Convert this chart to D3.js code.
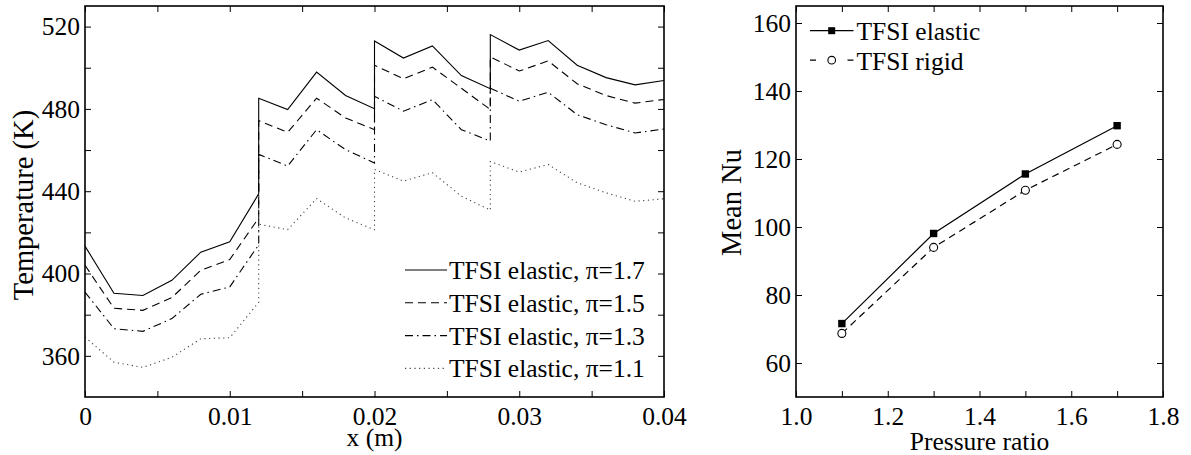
<!DOCTYPE html>
<html>
<head>
<meta charset="utf-8">
<script src="https://cdn.jsdelivr.net/npm/d3@7"></script>
<style>
  body { margin: 0; background: #fff; }
  svg text { font-family: "Liberation Serif", "Times New Roman", serif; fill: #000; }
</style>
</head>
<body>
<div id="chart"></div>
<script>
// Dati: temperatura lungo x per quattro rapporti di pressione
const xPos = [0, 0.002, 0.004, 0.006, 0.008, 0.010, 0.012, 0.012, 0.014, 0.016, 0.018, 0.020, 0.020,
  0.022, 0.024, 0.026, 0.028, 0.028, 0.030, 0.032, 0.034, 0.036, 0.038, 0.040];
const temp17 = [413.3, 390.4, 389.3, 396.7, 410.4, 415.4, 438.7, 485.2, 479.7, 497.9, 486.5, 480.1, 513.0,
  504.7, 510.6, 496.2, 489.8, 516.1, 508.6, 513.2, 501.2, 495.2, 491.7, 493.8];
const temp15 = [404, 383.1, 382.1, 388.3, 401.6, 406.8, 427, 474.3, 468.6, 485.2, 475.6, 469.9, 501.2,
  494.6, 500.3, 490, 479.7, 505.3, 498.4, 503.3, 492.2, 486.5, 482.8, 484.6];
const temp13 = [391, 373.2, 371.9, 378.1, 389.9, 393.5, 414, 457.9, 452.2, 469.9, 460.2, 453.7, 486.1,
  478.9, 484.5, 469.9, 464.4, 490.1, 483.7, 488.1, 477.2, 472.3, 468.3, 470.2];
const temp11 = [369.1, 356.9, 354.4, 359.3, 368.3, 368.8, 386, 424, 421.3, 436.4, 427, 421.3, 450.6,
  444.9, 449, 437.6, 430.8, 454.4, 449.3, 453, 444.1, 439.2, 435.1, 436.3];
const tempLabels = ['TFSI elastic, \u03c0=1.7', 'TFSI elastic, \u03c0=1.5', 'TFSI elastic, \u03c0=1.3', 'TFSI elastic, \u03c0=1.1'];

// Dati: Nusselt medio
const ratios = [1.1, 1.3, 1.5, 1.7];
const nuElastic = [71.6, 98.1, 115.6, 129.8];
const nuRigid = [68.7, 94.0, 110.8, 124.3];
const nuLabels = ['TFSI elastic', 'TFSI rigid'];

const [width, height] = [1191, 455];
const fontSize = 25.5;
const titleSize = 25.5;
const rotSize = 28.5;

const svg = d3.select('#chart').append('svg')
  .attr('width', width)
  .attr('height', height);

// Box con tick verso l'interno su tutti e quattro i lati
const drawFrame = (g, x, y, xTicks, yTicks, xFmt, yFmt) => {
  const [x0, x1] = x.range();
  const [y0, y1] = y.range();
  const tick = 6;

  const bottom = g.append('g')
    .attr('transform', `translate(0,${y0})`)
    .call(d3.axisBottom(x).tickValues(xTicks).tickFormat(xFmt)
      .tickSizeInner(-tick).tickSizeOuter(0).tickPadding(10));
  const top = g.append('g')
    .attr('transform', `translate(0,${y1})`)
    .call(d3.axisTop(x).tickValues(xTicks).tickFormat('')
      .tickSizeInner(-tick).tickSizeOuter(0));
  const left = g.append('g')
    .attr('transform', `translate(${x0},0)`)
    .call(d3.axisLeft(y).tickValues(yTicks).tickFormat(yFmt)
      .tickSizeInner(-tick).tickSizeOuter(0).tickPadding(5));
  const right = g.append('g')
    .attr('transform', `translate(${x1},0)`)
    .call(d3.axisRight(y).tickValues(yTicks).tickFormat('')
      .tickSizeInner(-tick).tickSizeOuter(0));

  [bottom, top, left, right].forEach((a) => {
    a.select('.domain').remove();
    a.selectAll('line').attr('stroke', '#000').attr('stroke-width', 1);
    a.selectAll('text').attr('font-size', fontSize).attr('font-family', null);
  });

  g.append('rect')
    .attr('x', x0).attr('y', y1)
    .attr('width', x1 - x0).attr('height', y0 - y1)
    .attr('fill', 'none').attr('stroke', '#000').attr('stroke-width', 1.6);
};

// ---- Grafico sinistro ----
const xL = d3.scaleLinear().domain([0, 0.04]).range([85, 664]);
const yL = d3.scaleLinear().domain([340, 530]).range([397, 6]);
const gL = svg.append('g');

const styles = [
  { dash: null, color: '#000' },
  { dash: '8,5', color: '#000' },
  { dash: '8,4,1.5,4', color: '#000' },
  { dash: '1.2,3.5', color: '#444' }
];
const series = [temp17, temp15, temp13, temp11];

const lineL = d3.line()
  .x((d, i) => xL(xPos[i]))
  .y((d) => yL(d));

series.forEach((s, i) => {
  gL.append('path')
    .datum(s)
    .attr('d', lineL)
    .attr('fill', 'none')
    .attr('stroke', styles[i].color)
    .attr('stroke-width', 1.1)
    .attr('stroke-dasharray', styles[i].dash);
});

drawFrame(gL, xL, yL,
  d3.range(0, 0.0401, 0.005),
  d3.range(360, 521, 20),
  (d) => (Math.round(d * 1000) % 10 === 0 ? (d === 0 ? '0' : d3.format('.2f')(d)) : ''),
  (d) => (d % 40 === 0 ? d : ''));

gL.append('text')
  .attr('transform', `translate(32.5,205) rotate(-90)`)
  .attr('text-anchor', 'middle')
  .attr('font-size', rotSize)
  .text('Temperature (K)');

gL.append('text')
  .attr('x', (85 + 664) / 2)
  .attr('y', 446)
  .attr('text-anchor', 'middle')
  .attr('font-size', titleSize)
  .text('x (m)');

// Legenda sinistra
const legL = gL.append('g');
tempLabels.forEach((t, i) => {
  const yy = 270 + i * 32.8;
  legL.append('line')
    .attr('x1', 405).attr('x2', 447)
    .attr('y1', yy).attr('y2', yy)
    .attr('stroke', styles[i].color)
    .attr('stroke-width', 1.1)
    .attr('stroke-dasharray', styles[i].dash);
  legL.append('text')
    .attr('x', 449)
    .attr('y', yy + 9)
    .attr('font-size', fontSize)
    .text(t);
});

// ---- Grafico destro ----
const xR = d3.scaleLinear().domain([1.0, 1.8]).range([796, 1163]);
const yR = d3.scaleLinear().domain([50, 165]).range([397, 6]);
const gR = svg.append('g');

const lineR = d3.line()
  .x((d, i) => xR(ratios[i]))
  .y((d) => yR(d));

gR.append('path')
  .datum(nuElastic)
  .attr('d', lineR)
  .attr('fill', 'none')
  .attr('stroke', '#000')
  .attr('stroke-width', 1.2);

gR.append('path')
  .datum(nuRigid)
  .attr('d', lineR)
  .attr('fill', 'none')
  .attr('stroke', '#000')
  .attr('stroke-width', 1.2)
  .attr('stroke-dasharray', '7,5');

gR.selectAll('rect.sq')
  .data(nuElastic)
  .enter()
  .append('rect')
  .attr('class', 'sq')
  .attr('x', (d, i) => xR(ratios[i]) - 3.7)
  .attr('y', (d) => yR(d) - 3.7)
  .attr('width', 7.4)
  .attr('height', 7.4)
  .attr('fill', '#000');

gR.selectAll('circle.ci')
  .data(nuRigid)
  .enter()
  .append('circle')
  .attr('class', 'ci')
  .attr('cx', (d, i) => xR(ratios[i]))
  .attr('cy', (d) => yR(d))
  .attr('r', 4)
  .attr('fill', '#fff')
  .attr('stroke', '#000')
  .attr('stroke-width', 1.1);

drawFrame(gR, xR, yR,
  d3.range(1.0, 1.801, 0.1),
  d3.range(60, 161, 20),
  (d) => (Math.round(d * 10) % 2 === 0 ? d3.format('.1f')(d) : ''),
  (d) => d);

gR.append('text')
  .attr('transform', `translate(740.5,202.5) rotate(-90)`)
  .attr('text-anchor', 'middle')
  .attr('font-size', rotSize)
  .text('Mean Nu');

gR.append('text')
  .attr('x', (796 + 1163) / 2)
  .attr('y', 450)
  .attr('text-anchor', 'middle')
  .attr('font-size', titleSize)
  .text('Pressure ratio');

// Legenda destra
const legR = gR.append('g');
[0, 1].forEach((i) => {
  const yy = 30.7 + i * 29.5;
  legR.append('line')
    .attr('x1', 810).attr('x2', 853.5)
    .attr('y1', yy).attr('y2', yy)
    .attr('stroke', '#000')
    .attr('stroke-width', 1.2)
    .attr('stroke-dasharray', i === 0 ? null : '6,31.5,6');
  if (i === 0) {
    legR.append('rect')
      .attr('x', 831.7 - 3.5).attr('y', yy - 3.5)
      .attr('width', 7).attr('height', 7)
      .attr('fill', '#000');
  } else {
    legR.append('circle')
      .attr('cx', 831.7).attr('cy', yy).attr('r', 3.8)
      .attr('fill', '#fff').attr('stroke', '#000').attr('stroke-width', 1.1);
  }
  legR.append('text')
    .attr('x', 856.5)
    .attr('y', yy + 9.3)
    .attr('font-size', fontSize)
    .text(nuLabels[i]);
});
</script>
</body>
</html>
